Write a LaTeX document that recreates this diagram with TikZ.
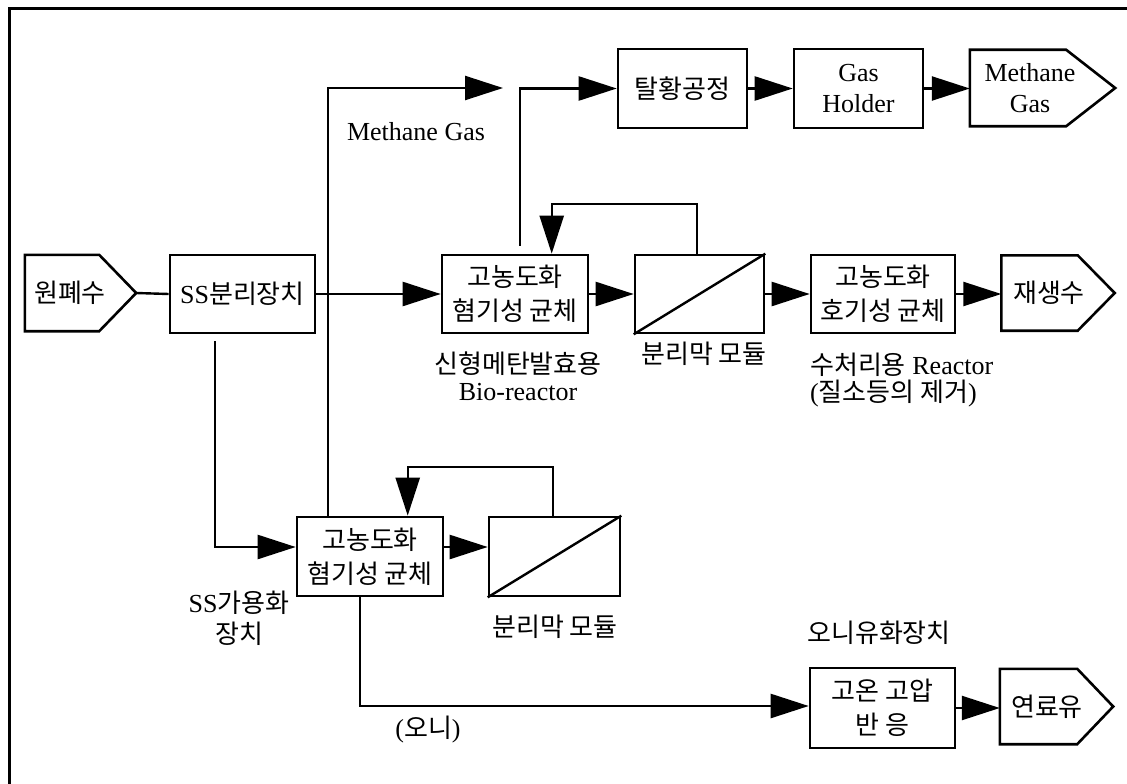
\documentclass[tikz,border=0pt]{standalone}
\usepackage{fontspec}
\setmainfont{Liberation Serif}
\newfontfamily\kr{Noto Sans CJK KR}
\usetikzlibrary{arrows.meta,calc}
\newcommand\fsz{\fontsize{26}{34}\selectfont}
\newcommand\fszb{\fontsize{26}{31}\selectfont}
\newcommand\fszc{\fontsize{26}{27}\selectfont}
\begin{document}
\begin{tikzpicture}[x=1pt,y=-1pt,
  every node/.style={inner sep=0pt, font=\fsz},
  box/.style={draw, line width=2.6pt, align=center},
  krbox/.style={box, font=\fsz\kr},
  shapeholder/.style={draw=none},
  outline/.style={line width=2.6pt, line join=miter},
  flow/.style={line width=2.4pt},
  arr/.style={flow, -{Triangle[length=38pt,width=24pt]}},
  lab/.style={align=center},
  krlab/.style={font=\fsz\kr}]
\useasboundingbox (0,0) rectangle (1127,784);
% frame (cut off at right and bottom)
\coordinate (fbl) at (9,784);
\coordinate (ftl) at (9,9);
\coordinate (ftr) at (1127,9);
\draw[line width=3pt] (fbl) -- (ftl) -- (ftr);

% ---- top row
\node[krbox, minimum width=129pt, minimum height=79pt] (desulf) at (682.5,88.5) {탈황공정};
\node[box, minimum width=129pt, minimum height=79pt, font=\fszb] (holder) at (858.5,88.5) {Gas\\Holder};
\node[shapeholder, minimum width=145pt, minimum height=76pt] (meth) at (1042.5,88) {};
\draw[outline] (meth.north west) -- ([xshift=-49pt]meth.north east) -- (meth.east) -- ([xshift=-49pt]meth.south east) -- (meth.south west) -- cycle;
\node[lab, font=\fszb] (metht) at (1030,88.5) {Methane\\Gas};

% ---- middle row
\node[shapeholder, minimum width=111pt, minimum height=76pt] (src) at (80.5,293) {};
\draw[outline] (src.north west) -- ([xshift=-37pt]src.north east) -- (src.east) -- ([xshift=-37pt]src.south east) -- (src.south west) -- cycle;
\node[krlab] (srct) at (70,293) {원폐수};

\node[box, minimum width=145pt, minimum height=78pt] (ss) at (242.5,294) {SS{\kr 분리장치}};
\node[krbox, minimum width=146pt, minimum height=78pt] (bio1) at (515,294) {고농도화\\혐기성 균체};
\node[box, minimum width=129pt, minimum height=78pt] (mem1) at (699.5,294) {};
\draw[flow] (mem1.south west) -- (mem1.north east);
\node[krbox, minimum width=144pt, minimum height=78pt] (aer) at (883,294) {고농도화\\호기성 균체};
\node[shapeholder, minimum width=113pt, minimum height=75pt] (reuse) at (1058,293) {};
\draw[outline] (reuse.north west) -- ([xshift=-37pt]reuse.north east) -- (reuse.east) -- ([xshift=-37pt]reuse.south east) -- (reuse.south west) -- cycle;
\node[krlab] (reuset) at (1049,293) {재생수};

% ---- lower rows
\node[krbox, minimum width=146pt, minimum height=79pt] (bio2) at (370,556.5) {고농도화\\혐기성 균체};
\node[box, minimum width=131pt, minimum height=79pt] (mem2) at (554.5,556.5) {};
\draw[flow] (mem2.south west) -- (mem2.north east);
\node[krbox, minimum width=145pt, minimum height=80pt] (hthp) at (882.5,708) {고온 고압\\반 응};
\node[shapeholder, minimum width=113pt, minimum height=75pt] (fuel) at (1056.5,706.5) {};
\draw[outline] (fuel.north west) -- ([xshift=-36pt]fuel.north east) -- (fuel.east) -- ([xshift=-36pt]fuel.south east) -- (fuel.south west) -- cycle;
\node[krlab] (fuelt) at (1047,707) {연료유};

% ---- labels
\node (lmg) at (416,132) {Methane Gas};
\node[lab, font=\fszc] (lbio) at (518,376) {{\kr 신형메탄발효용}\\Bio-reactor};
\node[krlab] (lmem1) at (704,354) {분리막 모듈};
\node[align=left, font=\fszc, anchor=west] (laer) at (810,380) {{\kr 수처리용} Reactor\\({\kr 질소등의 제거})};
\node[lab, font=\fszb] (lss) at (239,618) {SS{\kr 가용화}\\{\kr 장치}};
\node[krlab] (lmem2) at (555,627) {분리막 모듈};
\node[krlab] (loil) at (879,633) {오니유화장치};
\node (lsl) at (428,730) {({\kr 오니})};

% ---- connectors
\coordinate (mtop) at (503,88);
\draw[flow] (src.east) -- (ss.west);
\draw[arr] (ss.east) -- (bio1.west);
\draw[arr] ([xshift=32pt]bio2.north west) |- (mtop);
\draw[arr] ([xshift=79pt,yshift=8pt]bio1.north west) |- (desulf.west);
\draw[arr] (desulf.east) -- (holder.west);
\draw[arr] (holder.east) -- (holder.east -| meth.west);
\draw[arr] (bio1.east) -- (mem1.west);
\draw[arr] (mem1.east) -- (aer.west);
\draw[arr] (aer.east) -- (aer.east -| reuse.west);
\draw[arr] ([xshift=63pt]mem1.north west) -- ++(0,-50) -| ([xshift=111pt]bio1.north west);
\draw[arr] ([xshift=46pt,yshift=-7pt]ss.south west) |- ([yshift=9.5pt]bio2.west);
\draw[arr] ([yshift=9.5pt]bio2.east) -- ([yshift=9.5pt]mem2.west);
\draw[arr] ([xshift=65pt]mem2.north west) -- ++(0,-49) -| ([xshift=112pt]bio2.north west);
\draw[arr] ([xshift=64pt]bio2.south west) |- ([yshift=2pt]hthp.west);
\draw[arr] (hthp.east) -- (hthp.east -| fuel.west);
\end{tikzpicture}
\end{document}
